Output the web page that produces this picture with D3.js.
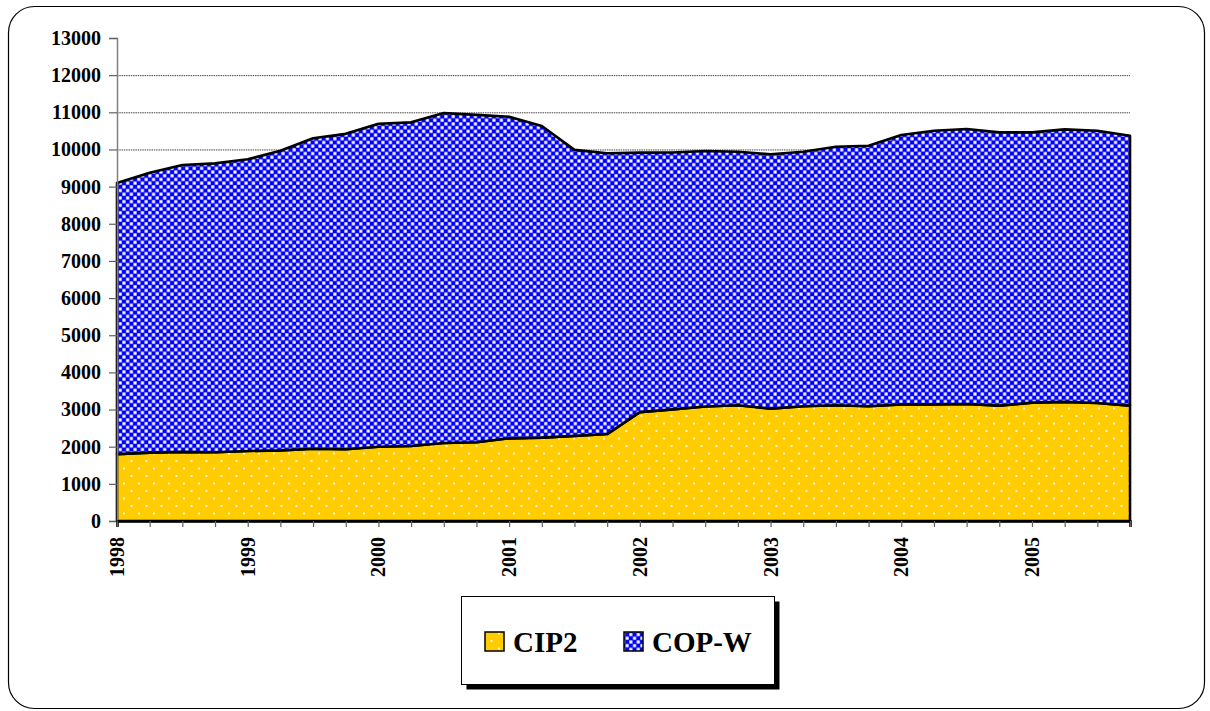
<!DOCTYPE html>
<html>
<head>
<meta charset="utf-8">
<script src="https://cdn.jsdelivr.net/npm/d3@7"></script>
<style>
  html, body { margin: 0; padding: 0; background: #ffffff; }
  svg { display: block; }
</style>
</head>
<body>
<svg id="chart" width="1210" height="711"></svg>
<script>
// ---- data (quarterly, 1998 Q1 .. 2005 Q4) ----
const yearLabels = ["1998", "1999", "2000", "2001", "2002", "2003", "2004", "2005"];
const quarters = d3.range(32);
const cip2 = [1800, 1840, 1860, 1850, 1885, 1900, 1945, 1930,
              2000, 2020, 2100, 2120, 2225, 2245, 2290, 2340,
              2930, 3005, 3080, 3115, 3025, 3090, 3115, 3090,
              3140, 3140, 3150, 3105, 3185, 3205, 3175, 3105];
const totalTop = [9100, 9375, 9580, 9625, 9735, 9965, 10300, 10420,
                  10690, 10730, 10980, 10930, 10880, 10630, 9990, 9900,
                  9915, 9920, 9960, 9940, 9870, 9940, 10075, 10100,
                  10390, 10505, 10550, 10460, 10460, 10540, 10505, 10370];
const copw = totalTop.map((t, i) => t - cip2[i]);
const seriesNames = ["CIP2", "COP-W"];
const yTicks = d3.range(0, 13001, 1000);

// ---- layout ----
const svg = d3.select("#chart");
const pLeft = 117, pRight = 1130, pTop = 38, pBottom = 521;
const x = d3.scaleLinear().domain([0, 31]).range([pLeft, pRight]);
const y = d3.scaleLinear().domain([0, 13000]).range([pBottom, pTop]);
const font = "'Liberation Serif', 'Times New Roman', serif";

// outer rounded border
svg.append("rect").attr("x", 8.5).attr("y", 6.5).attr("width", 1196).attr("height", 702)
  .attr("rx", 26).attr("ry", 26).attr("fill", "#fff").attr("stroke", "#000").attr("stroke-width", 1.2);

// patterns
const defs = svg.append("defs");
const pc = defs.append("pattern").attr("id", "checker").attr("patternUnits", "userSpaceOnUse")
  .attr("width", 7.4).attr("height", 7.4).attr("x", 0).attr("y", 0);
pc.append("rect").attr("width", 7.4).attr("height", 7.4).attr("fill", "#0000ff");
pc.append("rect").attr("x", 0.3).attr("y", 4.0).attr("width", 3.1).attr("height", 3.1).attr("fill", "#ffffff");
pc.append("rect").attr("x", 4.0).attr("y", 0.3).attr("width", 3.1).attr("height", 3.1).attr("fill", "#ffffff");

const py = defs.append("pattern").attr("id", "dots").attr("patternUnits", "userSpaceOnUse")
  .attr("width", 15).attr("height", 15);
py.append("rect").attr("width", 15).attr("height", 15).attr("fill", "#ffcc00");
[[4, 3.5], [11.5, 11]].forEach(([cx, cy]) => {
  py.append("rect").attr("x", cx - 1).attr("y", cy - 1).attr("width", 2).attr("height", 2)
    .attr("fill", "#ffffff").attr("opacity", 0.85);
});

const fills = ["url(#dots)", "url(#checker)"];

// gridlines
svg.append("g").selectAll("line").data(yTicks.filter(v => v > 0 && v < 13000)).join("line")
  .attr("x1", pLeft).attr("x2", pRight).attr("y1", d => y(d) + 0.5).attr("y2", d => y(d) + 0.5)
  .attr("stroke", "#303030").attr("stroke-width", 0.9).attr("stroke-dasharray", "1.5,0.8");

// stacked areas
const table = quarters.map(i => ({ i, "CIP2": cip2[i], "COP-W": copw[i] }));
const stacked = d3.stack().keys(seriesNames)(table);
const area = d3.area().x(d => x(d.data.i)).y0(d => y(d[0])).y1(d => y(d[1]));
svg.append("g").selectAll("path").data(stacked).join("path")
  .attr("d", area)
  .attr("fill", (d, k) => fills[k])
  .attr("stroke", "#000").attr("stroke-width", 2.6).attr("stroke-linejoin", "round");

// y axis
const yAxis = d3.axisLeft(y).tickValues(yTicks).tickSize(8).tickFormat(d3.format("d"));
const gy = svg.append("g").attr("transform", `translate(${pLeft},0)`).call(yAxis);
gy.select(".domain").attr("stroke", "#808080").attr("stroke-width", 1.5);
gy.selectAll(".tick line").attr("stroke", "#606060").attr("stroke-width", 1.2);
gy.selectAll(".tick text").attr("font-family", font).attr("font-weight", "bold")
  .attr("font-size", 20).attr("fill", "#000").attr("x", -16);

// x axis
const xAxis = d3.axisBottom(x).tickValues(quarters).tickSize(6).tickFormat("");
const gx = svg.append("g").attr("transform", `translate(0,${pBottom})`).call(xAxis);
gx.select(".domain").attr("stroke", "#000").attr("stroke-width", 2.6);
gx.selectAll(".tick line").attr("stroke", "#606060").attr("stroke-width", 1.2);

svg.append("g").selectAll("text").data(yearLabels).join("text")
  .attr("transform", (d, k) => `translate(${x(k * 4)},${pBottom + 16}) rotate(-90)`)
  .attr("text-anchor", "end").attr("dy", "0.35em")
  .attr("font-family", font).attr("font-weight", "bold").attr("font-size", 20)
  .text(d => d);

// legend
const lg = svg.append("g");
lg.append("rect").attr("x", 466.5).attr("y", 601.5).attr("width", 313).attr("height", 88).attr("fill", "#000");
lg.append("rect").attr("x", 461.5).attr("y", 596.5).attr("width", 313).attr("height", 88)
  .attr("fill", "#fff").attr("stroke", "#000").attr("stroke-width", 1);
const legendItems = [{ name: seriesNames[0], mx: 485, tx: 513 }, { name: seriesNames[1], mx: 624, tx: 652 }];
legendItems.forEach((it, k) => {
  lg.append("rect").attr("x", it.mx).attr("y", 632).attr("width", 19).attr("height", 19)
    .attr("fill", fills[k]).attr("stroke", "#000").attr("stroke-width", 1.5);
  lg.append("text").attr("x", it.tx).attr("y", 652)
    .attr("font-family", font).attr("font-weight", "bold").attr("font-size", 29)
    .text(it.name);
});
</script>
</body>
</html>
